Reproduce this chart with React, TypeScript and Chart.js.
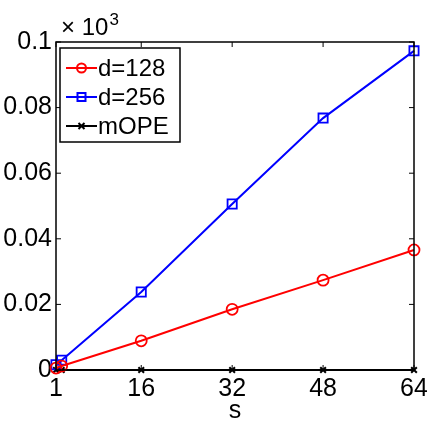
import React, { useEffect, useRef } from "react";
import { Chart, registerables } from "chart.js";

Chart.register(...registerables);

const sValues = [1, 2, 16, 32, 48, 64];
const xTicks = [1, 16, 32, 48, 64];
const yTicks = [0, 0.02, 0.04, 0.06, 0.08, 0.1];
const d128 = [0.0006, 0.0012, 0.0089, 0.0185, 0.0274, 0.0366];
const d256 = [0.0016, 0.003, 0.0238, 0.0506, 0.0768, 0.0973];
const mope = [0, 0, 0, 0, 0, 0];
const seriesNames = ["d=128", "d=256", "mOPE"];
const exponentText = ["× 10", "3"];

const FONT = "Liberation Sans, Arial, sans-serif";

const framePlugin = {
  id: "frame",
  afterDatasetsDraw(chart: any) {
    const { ctx, chartArea, scales } = chart;
    const { left, right, top, bottom } = chartArea;
    ctx.save();
    ctx.strokeStyle = "#000";
    ctx.lineWidth = 1.5;
    ctx.strokeRect(left, top, right - left, bottom - top);
    const tl = 5;
    ctx.lineWidth = 1;
    xTicks.forEach((v) => {
      const x = scales.x.getPixelForValue(v);
      ctx.beginPath();
      ctx.moveTo(x, bottom);
      ctx.lineTo(x, bottom - tl);
      ctx.moveTo(x, top);
      ctx.lineTo(x, top + tl);
      ctx.stroke();
    });
    yTicks.forEach((v) => {
      const y = scales.y.getPixelForValue(v);
      ctx.beginPath();
      ctx.moveTo(left, y);
      ctx.lineTo(left + tl, y);
      ctx.moveTo(right, y);
      ctx.lineTo(right - tl, y);
      ctx.stroke();
    });
    // exponent label
    ctx.fillStyle = "#000";
    ctx.font = `24px ${FONT}`;
    ctx.textBaseline = "alphabetic";
    ctx.textAlign = "left";
    const ex = left + 5;
    const ey = top - 7;
    ctx.fillText(exponentText[0], ex, ey);
    const w = ctx.measureText(exponentText[0]).width;
    ctx.font = `17px ${FONT}`;
    ctx.fillText(exponentText[1], ex + w + 1, ey - 10);

    // legend
    const lx = left + 4;
    const ly = top + 6;
    const lw = 120;
    const lh = 94;
    ctx.fillStyle = "#fff";
    ctx.fillRect(lx, ly, lw, lh);
    ctx.strokeStyle = "#000";
    ctx.lineWidth = 1.5;
    ctx.strokeRect(lx, ly, lw, lh);
    const styles = [
      { color: "#ff0000", marker: "circle" },
      { color: "#0000ff", marker: "rect" },
      { color: "#000000", marker: "cross" },
    ];
    styles.forEach((st, i) => {
      const cy = ly + 20 + i * 29;
      const x0 = lx + 6;
      const x1 = lx + 37;
      const mx = (x0 + x1) / 2;
      ctx.strokeStyle = st.color;
      ctx.lineWidth = 2;
      ctx.beginPath();
      ctx.moveTo(x0, cy);
      ctx.lineTo(x1, cy);
      ctx.stroke();
      ctx.beginPath();
      if (st.marker === "circle") {
        ctx.arc(mx, cy, 4.5, 0, Math.PI * 2);
        ctx.stroke();
      } else if (st.marker === "rect") {
        ctx.strokeRect(mx - 4, cy - 4, 8, 8);
      } else {
        ctx.moveTo(mx - 3, cy - 3);
        ctx.lineTo(mx + 3, cy + 3);
        ctx.moveTo(mx + 3, cy - 3);
        ctx.lineTo(mx - 3, cy + 3);
        ctx.stroke();
      }
      ctx.fillStyle = "#000";
      ctx.font = `24px ${FONT}`;
      ctx.textBaseline = "middle";
      ctx.fillText(seriesNames[i], x1 + 1, cy + 1);
    });
    ctx.restore();
  },
};

export default function App() {
  const ref = useRef<HTMLCanvasElement | null>(null);
  useEffect(() => {
    if (!ref.current) return;
    const chart = new Chart(ref.current, {
      type: "line",
      data: {
        datasets: [
          {
            label: seriesNames[0],
            data: sValues.map((s, i) => ({ x: s, y: d128[i] })),
            borderColor: "#ff0000",
            backgroundColor: "rgba(0,0,0,0)",
            borderWidth: 2,
            pointStyle: "circle",
            pointRadius: 5.5,
            pointBorderWidth: 1.8,
            pointBorderColor: "#ff0000",
            clip: false as any,
          },
          {
            label: seriesNames[1],
            data: sValues.map((s, i) => ({ x: s, y: d256[i] })),
            borderColor: "#0000ff",
            backgroundColor: "rgba(0,0,0,0)",
            borderWidth: 2,
            pointStyle: "rect",
            pointRadius: 6.5,
            pointBorderWidth: 1.8,
            pointBorderColor: "#0000ff",
            clip: false as any,
          },
          {
            label: seriesNames[2],
            data: sValues.map((s, i) => ({ x: s, y: mope[i] })),
            borderColor: "#000000",
            backgroundColor: "rgba(0,0,0,0)",
            borderWidth: 2,
            pointStyle: "crossRot",
            pointRadius: 4,
            pointBorderWidth: 2,
            pointBorderColor: "#000000",
            clip: false as any,
          },
        ],
      },
      options: {
        animation: false,
        responsive: false,
        maintainAspectRatio: false,
        layout: { padding: { top: 42, right: 13, left: 0, bottom: 0 } },
        plugins: { legend: { display: false }, tooltip: { enabled: false } },
        scales: {
          x: {
            type: "linear",
            min: 1,
            max: 64,
            grid: { display: false, drawTicks: false },
            border: { display: false },
            afterBuildTicks: (scale: any) => {
              scale.ticks = xTicks.map((v) => ({ value: v }));
            },
            afterFit: (scale: any) => {
              scale.height = 53;
              scale.paddingLeft = 0;
              scale.paddingRight = 0;
            },
            ticks: {
              color: "#000",
              font: { family: FONT, size: 25 },
              padding: 4,
              maxRotation: 0,
              callback: (v: any) => String(v),
            },
            title: {
              display: true,
              text: "s",
              color: "#000",
              font: { family: FONT, size: 25 },
              padding: { top: 0, bottom: -3 },
            },
          },
          y: {
            type: "linear",
            min: 0,
            max: 0.1,
            grid: { display: false, drawTicks: false },
            border: { display: false },
            afterBuildTicks: (scale: any) => {
              scale.ticks = yTicks.map((v) => ({ value: v }));
            },
            afterFit: (scale: any) => {
              scale.width = 56;
              scale.paddingTop = 0;
              scale.paddingBottom = 0;
            },
            ticks: {
              color: "#000",
              font: { family: FONT, size: 25 },
              padding: 4,
              callback: (v: any) => String(Math.round(Number(v) * 100) / 100),
            },
          },
        },
      },
      plugins: [framePlugin],
    });
    return () => chart.destroy();
  }, []);
  return (
    <div style={{ position: "fixed", left: 0, top: 0, width: 427, height: 423, background: "#fff" }}>
      <canvas ref={ref} width={427} height={423} style={{ display: "block" }} />
    </div>
  );
}
